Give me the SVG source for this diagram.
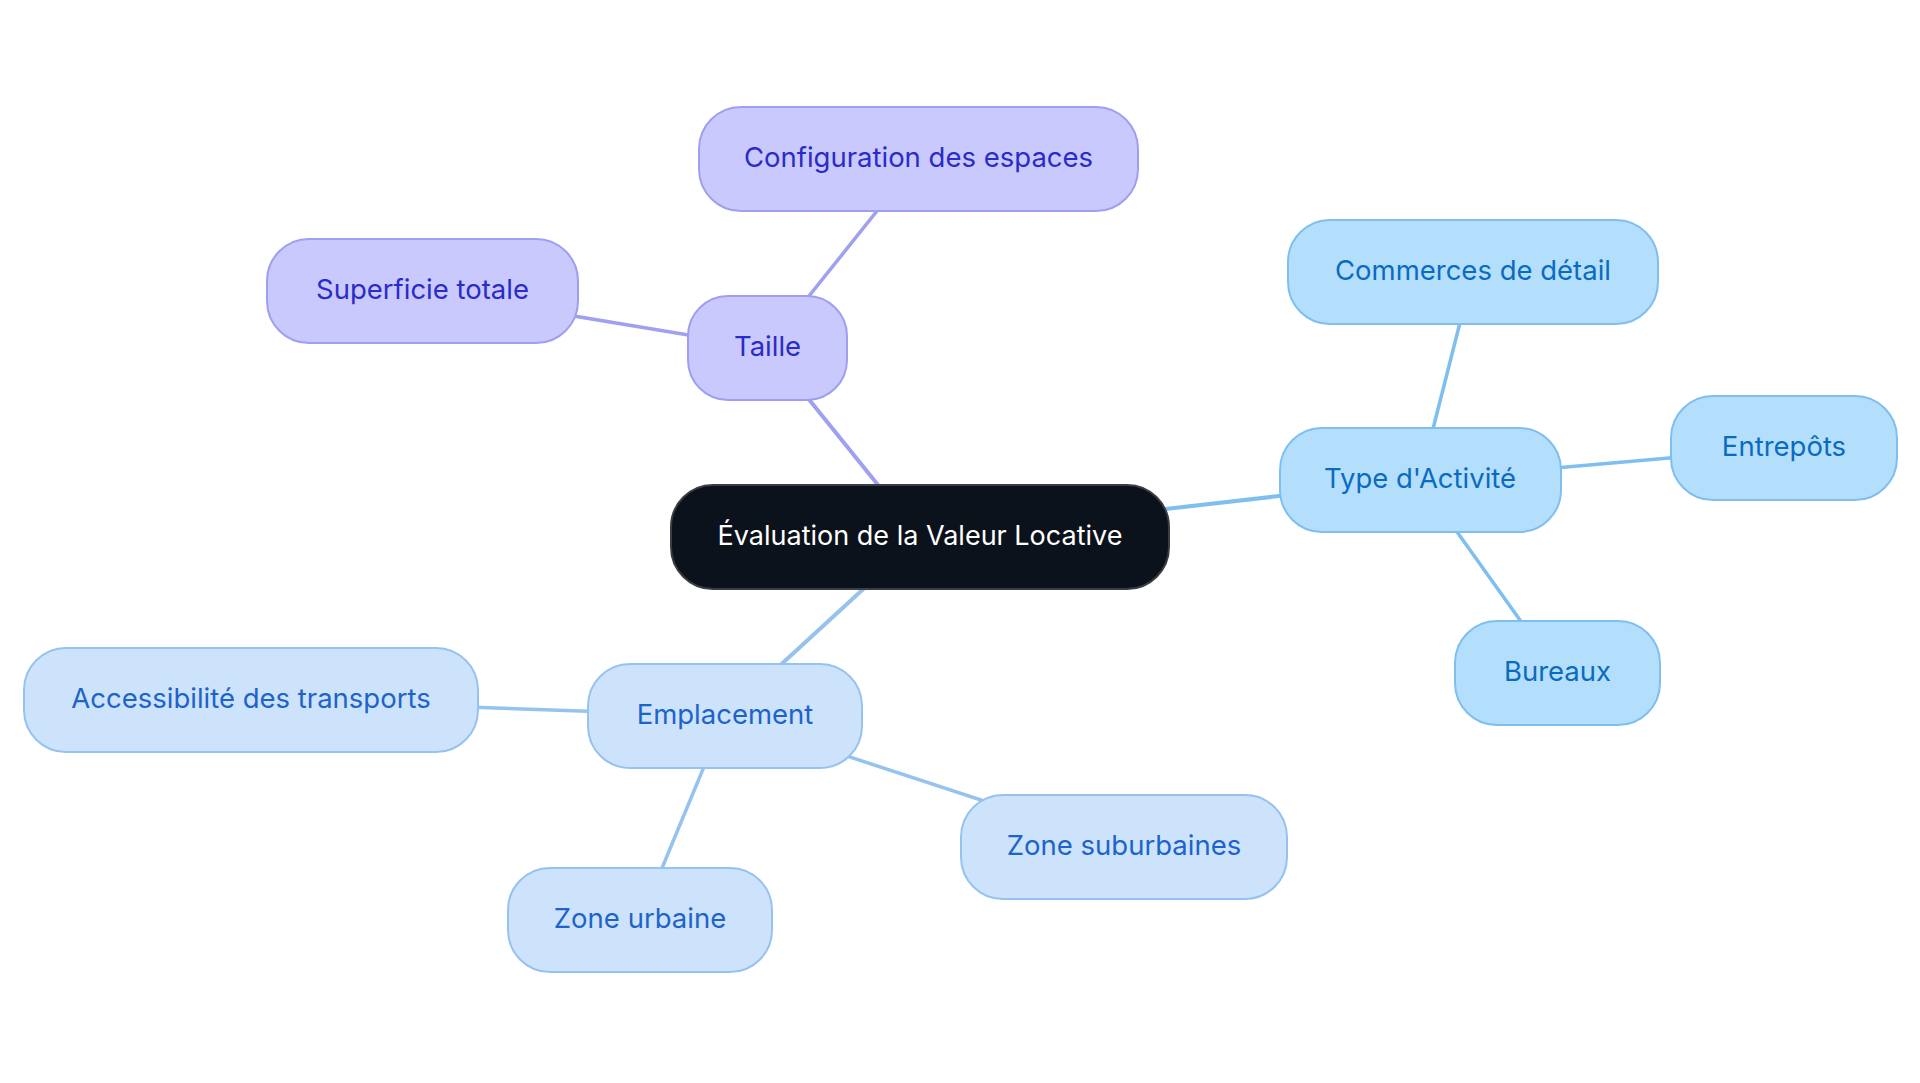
<svg xmlns="http://www.w3.org/2000/svg" width="1920" height="1083" viewBox="0 0 1920 1083">
<style>
text{font-family:Inter,"Noto Sans","Liberation Sans",sans-serif;font-size:27.5px;text-anchor:middle;dominant-baseline:central}
.e{fill:none;stroke-linecap:round}
.ep{stroke:#a0a0f0}
.eb{stroke:#7ebff0}
.el{stroke:#96c2ef}
.np rect{fill:#c9c9fd;stroke:#9f9ff0;stroke-width:2}
.np text{fill:#2b2bc8}
.nb rect{fill:#b3dffc;stroke:#7ebff0;stroke-width:2}
.nb text{fill:#0b6bbf}
.nl rect{fill:#cde3fb;stroke:#96c2ef;stroke-width:2}
.nl text{fill:#1e63c9}
</style>
<rect width="1920" height="1083" fill="#ffffff"/>
<g id="connectors">
<line class="e ep" x1="920" y1="537" x2="767.5" y2="348" stroke-width="4"/>
<line class="e ep" x1="767.5" y1="348" x2="918.5" y2="159" stroke-width="3.5"/>
<line class="e ep" x1="767.5" y1="348" x2="422.5" y2="291" stroke-width="3.5"/>
<line class="e eb" x1="920" y1="537" x2="1420" y2="480" stroke-width="4"/>
<line class="e eb" x1="1420" y1="480" x2="1473" y2="271.5" stroke-width="3.5"/>
<line class="e eb" x1="1420" y1="480" x2="1784" y2="448" stroke-width="3.5"/>
<line class="e eb" x1="1420" y1="480" x2="1557.5" y2="672.5" stroke-width="3.5"/>
<line class="e el" x1="920" y1="537" x2="725" y2="716" stroke-width="4"/>
<line class="e el" x1="725" y1="716" x2="250.5" y2="699.5" stroke-width="3.5"/>
<line class="e el" x1="725" y1="716" x2="640.5" y2="920" stroke-width="3.5"/>
<line class="e el" x1="725" y1="716" x2="1124" y2="847" stroke-width="3.5"/>
</g>
<g id="root">
<rect x="671" y="485" width="498" height="104" rx="42" fill="#0c121b" stroke="#3a3d44" stroke-width="2"/>
<text x="920" y="535" fill="#ffffff" style="font-size:27px">Évaluation de la Valeur Locative</text>
</g>
<g id="taille" class="np">
<rect x="688" y="296" width="159" height="104" rx="40"/>
<text x="767.5" y="346">Taille</text>
</g>
<g id="configuration" class="np">
<rect x="699" y="107" width="439" height="104" rx="42"/>
<text x="918.5" y="157">Configuration des espaces</text>
</g>
<g id="superficie" class="np">
<rect x="267" y="239" width="311" height="104" rx="42"/>
<text x="422.5" y="289">Superficie totale</text>
</g>
<g id="type" class="nb">
<rect x="1280" y="428" width="281" height="104" rx="42"/>
<text x="1420" y="478">Type d'Activité</text>
</g>
<g id="commerces" class="nb">
<rect x="1288" y="220" width="370" height="104" rx="42"/>
<text x="1473" y="270">Commerces de détail</text>
</g>
<g id="entrepots" class="nb">
<rect x="1671" y="396" width="226" height="104" rx="42"/>
<text x="1784" y="446">Entrepôts</text>
</g>
<g id="bureaux" class="nb">
<rect x="1455" y="621" width="205" height="104" rx="42"/>
<text x="1557.5" y="671">Bureaux</text>
</g>
<g id="emplacement" class="nl">
<rect x="588" y="664" width="274" height="104" rx="42"/>
<text x="725" y="714">Emplacement</text>
</g>
<g id="accessibilite" class="nl">
<rect x="24" y="648" width="454" height="104" rx="42"/>
<text x="251" y="698">Accessibilité des transports</text>
</g>
<g id="zone-urbaine" class="nl">
<rect x="508" y="868" width="264" height="104" rx="42"/>
<text x="640" y="918">Zone urbaine</text>
</g>
<g id="zone-suburbaines" class="nl">
<rect x="961" y="795" width="326" height="104" rx="42"/>
<text x="1124" y="845">Zone suburbaines</text>
</g>
</svg>
